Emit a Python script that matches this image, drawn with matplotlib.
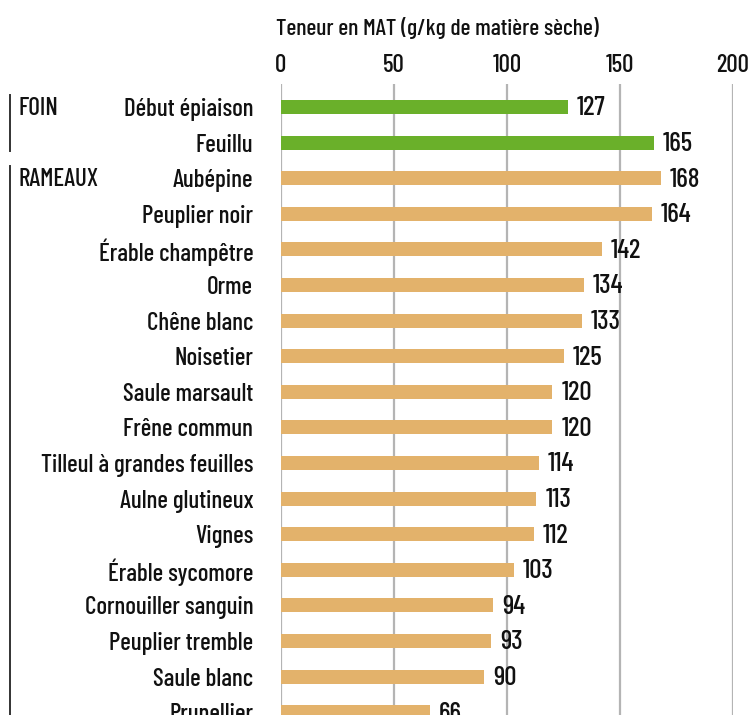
#!/usr/bin/env python3
"""Teneur en MAT des foins et rameaux - barres horizontales."""

import matplotlib
matplotlib.use("Agg")
import matplotlib.pyplot as plt

# Data
groups = ["FOIN", "RAMEAUX"]
group_sizes = [2, 16]
categories = [
    "Début épiaison", "Feuillu",
    "Aubépine", "Peuplier noir", "Érable champêtre", "Orme", "Chêne blanc",
    "Noisetier", "Saule marsault", "Frêne commun", "Tilleul à grandes feuilles",
    "Aulne glutineux", "Vignes", "Érable sycomore", "Cornouiller sanguin",
    "Peuplier tremble", "Saule blanc", "Prunellier",
]
values = [127, 165, 168, 164, 142, 134, 133, 125, 120, 120, 114, 113, 112,
          103, 94, 93, 90, 66]
xticks = [0, 50, 100, 150, 200]
xlabel = "Teneur en MAT (g/kg de matière sèche)"

GREEN, TAN, GRID, TEXT = "#6ab02a", "#e3b26b", "#b4b4b4", "#111111"
plt.rcParams["font.family"] = ["Barlow Condensed", "DejaVu Sans"]
plt.rcParams["font.weight"] = 500

W, H = 749, 715
fig = plt.figure(figsize=(W / 100, H / 100), dpi=100, facecolor="white")
# axes from x=281px (0) to x=733px (200), top at y=84px, bottom at figure edge
ax = fig.add_axes([281 / W, 0, (733 - 281) / W, (H - 84) / H])

colors = []
for g, n in zip(groups, group_sizes):
    colors += [GREEN if g == "FOIN" else TAN] * n

ypos = list(range(len(categories)))
ax.barh(ypos, values, height=0.39, color=colors, zorder=2)
for y, v in zip(ypos, values):
    ax.annotate(str(v), (v, y), xytext=(6.5, -1), textcoords="offset points",
                ha="left", va="center", fontsize=19.5, color=TEXT)

ax.set_xlim(0, 200)
row_px = 35.6
ax.set_ylim((H - 107) / row_px, (84 - 107) / row_px)
ax.set_xticks(xticks)
ax.xaxis.tick_top()
ax.tick_params(axis="x", length=0, pad=5, labelsize=18, colors=TEXT)
ax.set_yticks(ypos)
ax.set_yticklabels(categories)
ax.tick_params(axis="y", length=0, pad=20, labelsize=18, colors=TEXT)
ax.grid(True, axis="x", color=GRID, linewidth=1.6, zorder=0)
ax.set_axisbelow(True)
for s in ax.spines.values():
    s.set_visible(False)

fig.text(276 / W, 1 - 28 / H, xlabel, ha="left", va="center",
         fontsize=17, color=TEXT)

# group labels with vertical brackets
trans = ax.get_yaxis_transform()
start = 0
for g, n in zip(groups, group_sizes):
    ax.text(-263 / 452, start + 0.03, g, transform=trans,
            ha="left", va="center", fontsize=18, color=TEXT, clip_on=False)
    y0 = start - 0.33
    y1 = start + n - 1 + 0.25 if g == "FOIN" else 30
    ax.plot([-271 / 452, -271 / 452], [y0, y1], transform=trans,
            color="#333333", linewidth=1.4, clip_on=False)
    start += n

fig.savefig("out.png", dpi=100, facecolor=fig.get_facecolor())
